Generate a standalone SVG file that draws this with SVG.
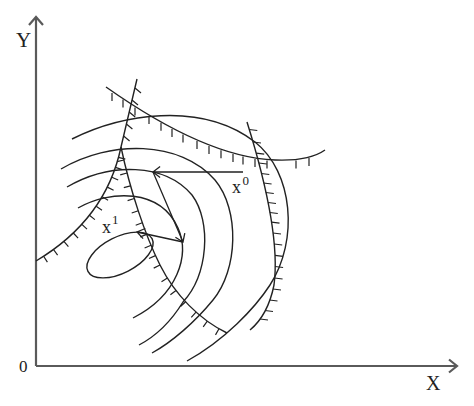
<svg xmlns="http://www.w3.org/2000/svg" width="474" height="406" viewBox="0 0 474 406">
<style>
.ax{fill:none;stroke:#5a5a5a;stroke-width:2.2}
.c{fill:none;stroke:#222;stroke-width:1.4}
.h{fill:none;stroke:#222;stroke-width:1.2}
.a{fill:none;stroke:#222;stroke-width:1.3}
text{font-family:"Liberation Serif","Times New Roman",serif;fill:#222}
</style>
<rect width="474" height="406" fill="#fff"/>
<g id="axes">
<path class="ax" d="M36,366 V17 M457,366 H36"/>
<path class="ax" d="M29,25 L36,17 L43,25 M449,359.5 L457,366 L449,372.5"/>
</g>
<g id="contours">
<path class="c" d="M72,139 C120,115 200,100 255,142 C293,172 299,240 270,285 C255,308 225,340 187,361"/>
<path class="c" d="M61,169 C110,140 180,140 215,180 C240,210 238,270 213,300 C195,322 172,342 152,353"/>
<path class="c" d="M67,187 C110,162 165,163 192,195 C212,222 208,275 183,302 C175,315 160,334 139,345"/>
<path class="c" d="M78,208 C110,190 160,188 178,228 C190,255 178,295 133,318"/>
<ellipse class="c" cx="120" cy="255" rx="36" ry="18" transform="rotate(-27 120 255)"/>
</g>
<g id="constraint-top">
<path class="c" d="M106,87 C160,125 220,158 275,160 C300,161 315,157 325,150"/>
<path class="h" d="M112,93 v8 M123,99.5 v8 M135,107.5 v8 M149,116 v8 M161,122.7 v8 M172,129 v8 M183,134.5 v8 M197,141 v8 M209,146 v8 M221,150.3 v8 M233,154 v8 M243,156.6 v8 M255,159 v8 M267,160.5 v8 M296,160.6 v8 M309,158 v8"/>
</g>
<g id="constraint-left">
<path class="c" d="M137,79 L121,147 C112,190 88,230 36,261"/>
<path class="c" d="M121,147 C130,190 145,235 160,265 C175,295 200,320 227,333"/>
<path class="h" d="M135,88 l6,5 M132,100 l6,5 M129.2,112 l6,5 M126.4,124 l6,5 M123.6,136 l6,5"/>
<path class="h" d="M118.5,157.3 L125.3,159.1 M115.5,167.4 L122.1,169.6 M111.8,177.3 L118.2,180 M107.3,187.1 L113.6,190.2 M102.1,196.8 L108.1,200.3 M96.2,206.3 L102,210.2 M89.4,215.3 L94.9,219.6 M81.9,224.4 L87,229.1 M73.3,233 L78.1,238.1 M63.9,241.3 L68.4,246.7 M53.5,249.5 L57.6,255.2 M43.6,256.2 L47.4,262.1"/>
<path class="h" d="M123.9,160 L117.1,161.6 M127,173 L120.2,174.8 M130.5,185.8 L123.8,187.7 M134.3,198.5 L127.6,200.6 M138.3,210.8 L131.7,213 M142.3,222.8 L135.7,225.2 M146.7,234.4 L140.2,236.9 M151.1,245.3 L144.6,248 M155.4,255.6 L149,258.5 M160,265 L153.7,268.1 M167.4,278.1 L161.5,281.8 M176,290.5 L170.4,294.8 M185.6,301.7 L180.5,306.5 M196,312.1 L191.3,317.3 M207.3,321.1 L203.2,326.8 M219,328.8 L215.5,334.9"/>
</g>
<g id="constraint-right">
<path class="c" d="M247,122 C262,170 280,240 274,285 C270,305 262,320 250,330"/>
<path class="h" d="M249.3,129.5 l8,1 M253,142 l8,1 M256.2,153.1 l8,1 M258.8,163 l8,1 M261.3,173.5 l8,1 M263.6,183 l8,1 M265.8,192.5 l8,1 M268,202.5 l8,1 M269.8,212.5 l8,1 M271.5,222.1 l8,1 M273,233 l8,1 M274.2,244 l8,1 M275,255.4 l8,1 M275.1,266.5 l8,1 M274.6,278 l8,1 M273,289 l8,1 M269.5,300 l8,1 M265,310.5 l8,1 M260,319 l8,1"/>
</g>
<g id="connectors">
<path class="a" d="M243,172 H153 M160.1,166.5 L153,172 L160.1,177.5"/>
<path class="a" d="M153,172 L183,242 M184.8,233.2 L183,242 L175.4,237.3"/>
<path class="a" d="M183,242 L137,232 M143.1,238.6 L137,232 L145.3,228.5"/>
</g>
<g id="labels">
<text x="16" y="47" font-size="21">Y</text>
<text x="19" y="372" font-size="17">0</text>
<text x="426" y="390" font-size="20">X</text>
<text x="232" y="193" font-size="18">x</text>
<text x="242.5" y="185" font-size="13">0</text>
<text x="102" y="233" font-size="18">x</text>
<text x="112" y="224" font-size="13">1</text>
</g>
</svg>
